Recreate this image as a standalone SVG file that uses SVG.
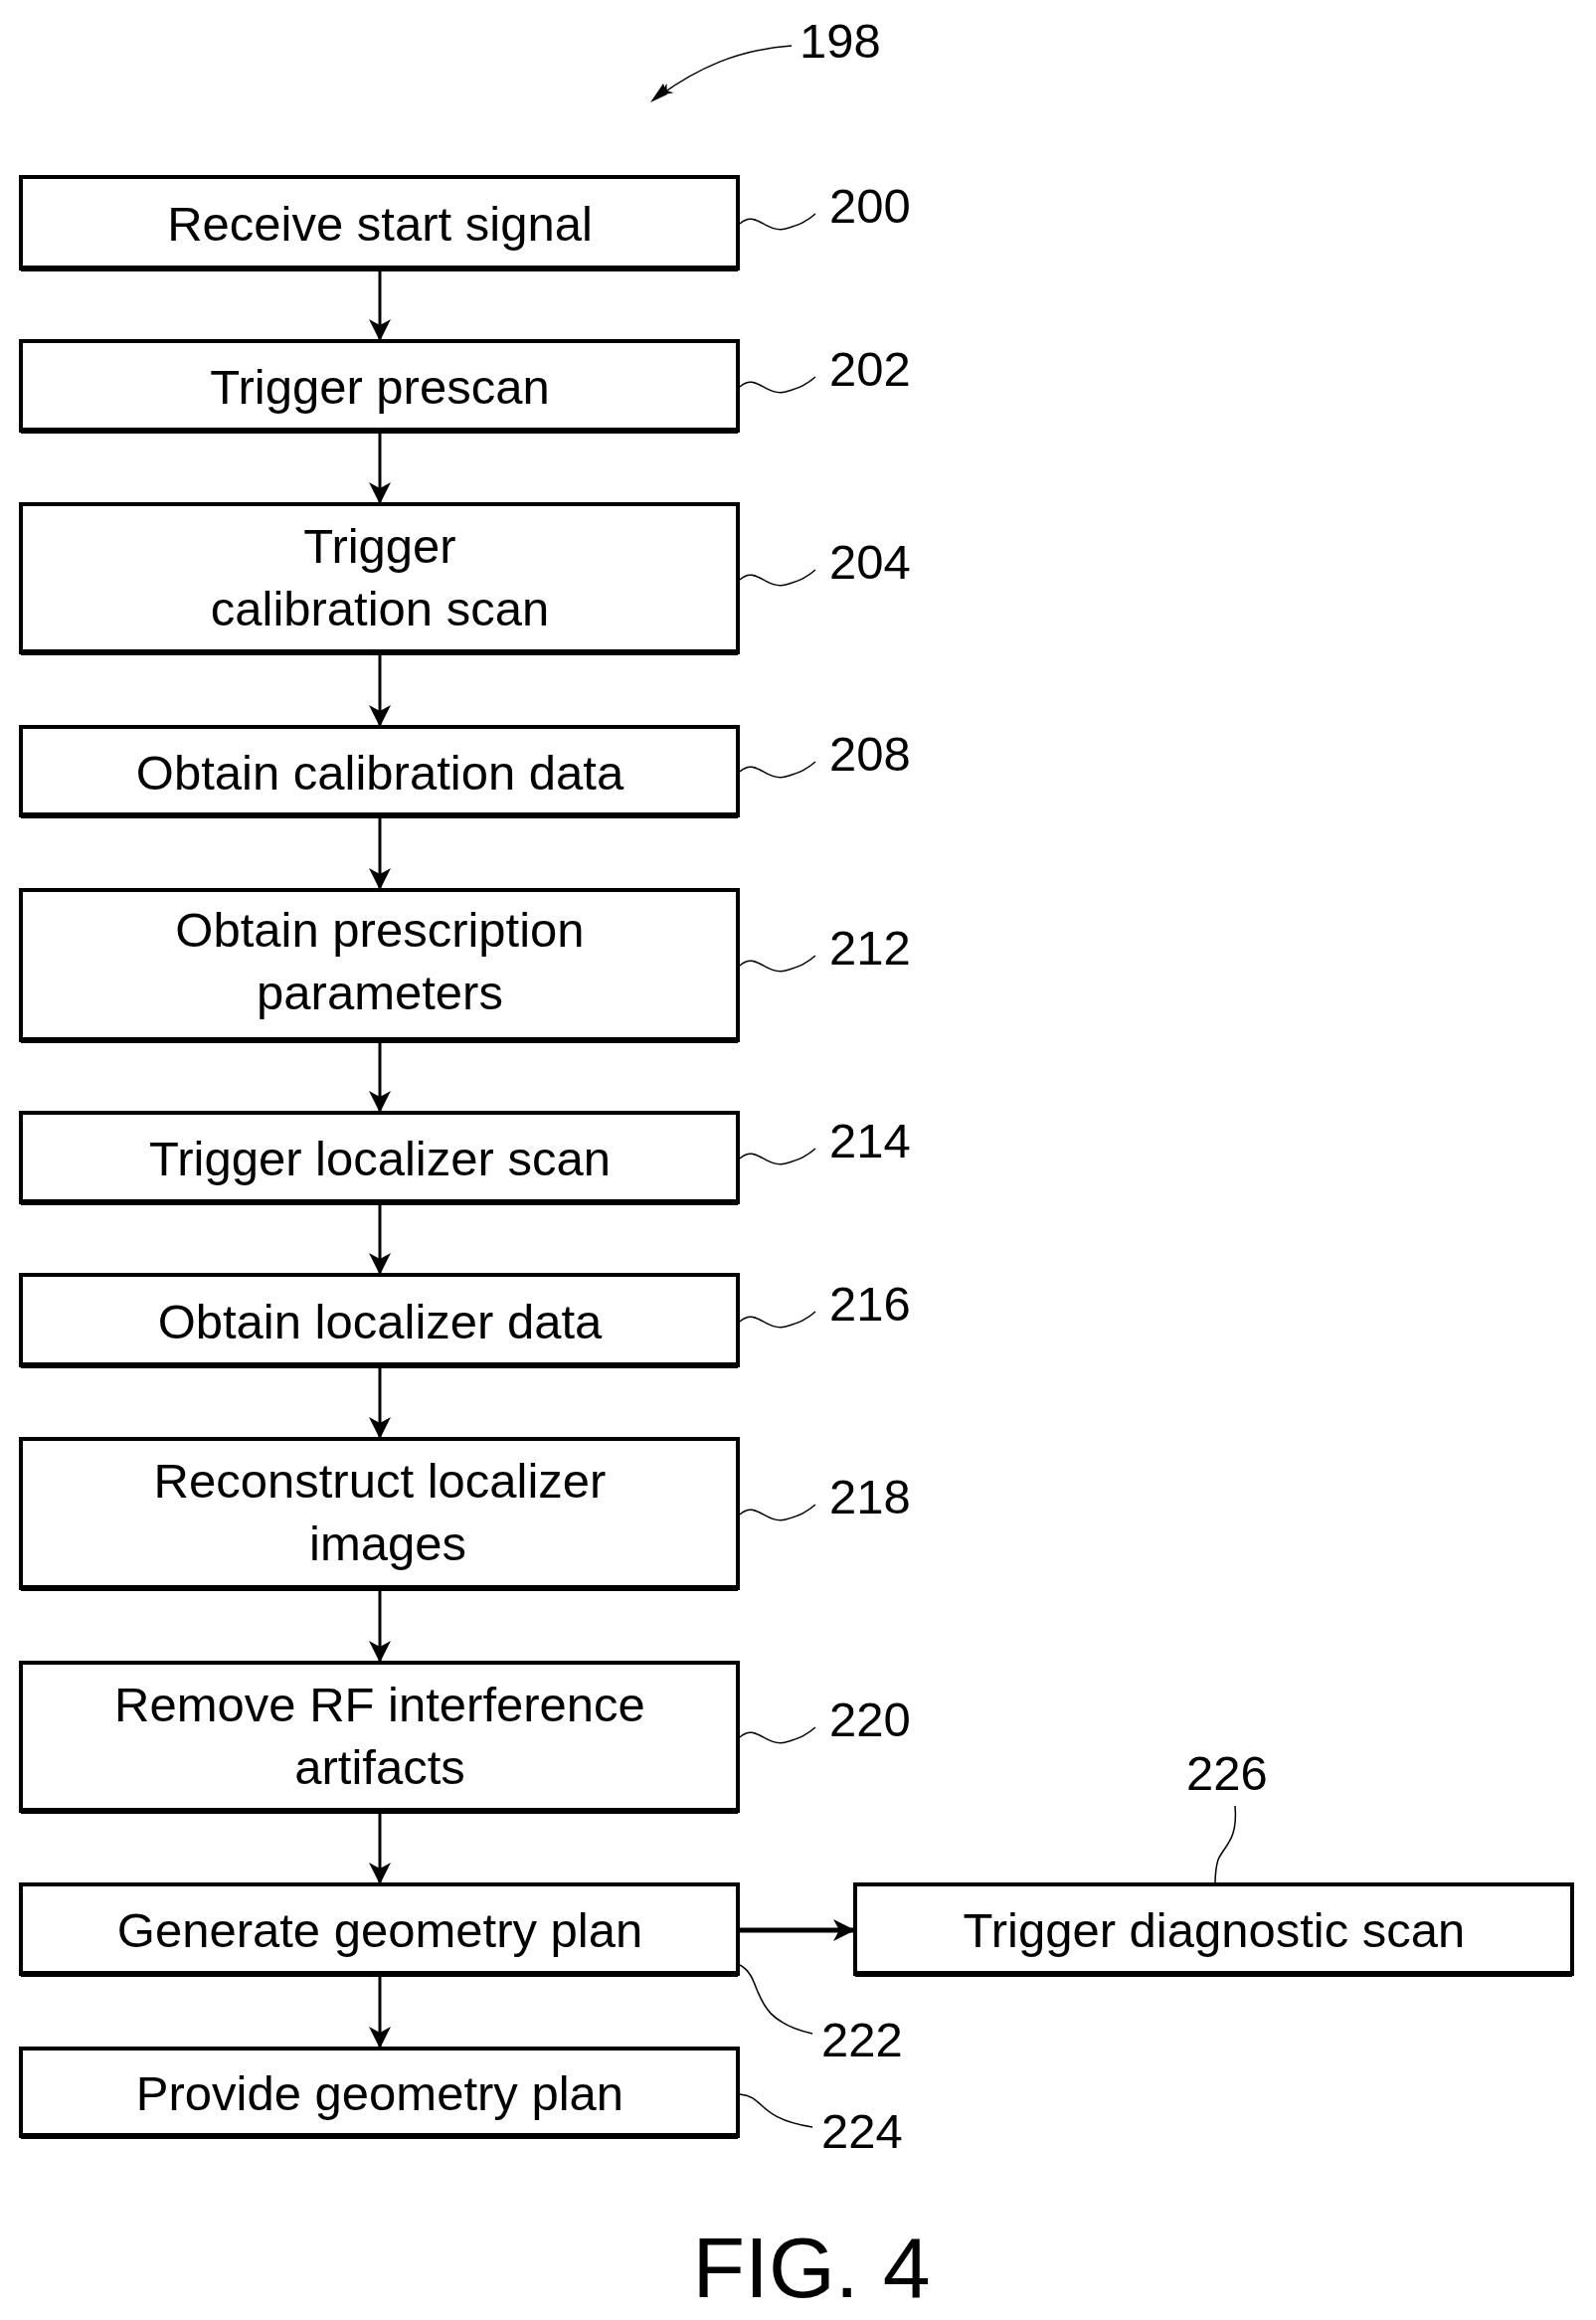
<svg xmlns="http://www.w3.org/2000/svg" width="1605" height="2333" viewBox="0 0 1605 2333">
<defs>
<style>
.box{fill:#fff;stroke:#000;stroke-width:4}
.sh{stroke:#000;stroke-width:6}
.t{font-family:"Liberation Sans",Arial,sans-serif;font-size:49px;text-anchor:middle;fill:#000}
.n{font-family:"Liberation Sans",Arial,sans-serif;font-size:49px;fill:#000}
.c{fill:none;stroke:#000;stroke-width:3}
.l{fill:none;stroke:#000;stroke-width:1.5}
</style>
<marker id="a" markerWidth="12" markerHeight="12" refX="11" refY="6" orient="auto" markerUnits="userSpaceOnUse"><path d="M0,0 L12,6 L0,12 L4,6 Z" fill="#000"/></marker>
<marker id="a2" markerWidth="22" markerHeight="22" refX="20" refY="11" orient="auto" markerUnits="userSpaceOnUse"><path d="M0,0 L22,11 L0,22 L6,11 Z" fill="#000"/></marker>
</defs>
<rect width="1605" height="2333" fill="#fff"/>
<g id="connectors">
<line class="c" x1="382" y1="272" x2="382" y2="341" marker-end="url(#a2)"/>
<line class="c" x1="382" y1="435" x2="382" y2="505" marker-end="url(#a2)"/>
<line class="c" x1="382" y1="658" x2="382" y2="729" marker-end="url(#a2)"/>
<line class="c" x1="382" y1="822" x2="382" y2="893" marker-end="url(#a2)"/>
<line class="c" x1="382" y1="1048" x2="382" y2="1117" marker-end="url(#a2)"/>
<line class="c" x1="382" y1="1211" x2="382" y2="1280" marker-end="url(#a2)"/>
<line class="c" x1="382" y1="1375" x2="382" y2="1445" marker-end="url(#a2)"/>
<line class="c" x1="382" y1="1599" x2="382" y2="1670" marker-end="url(#a2)"/>
<line class="c" x1="382" y1="1823" x2="382" y2="1893" marker-end="url(#a2)"/>
<line class="c" x1="382" y1="1987" x2="382" y2="2058" marker-end="url(#a2)"/>
<line x1="742" y1="1941" x2="858" y2="1941" stroke="#000" stroke-width="5" marker-end="url(#a2)"/>
</g>
<g id="n200"><rect class="box" x="21" y="178" width="721" height="92"/><line class="sh" x1="21" y1="270" x2="742" y2="270"/><text class="t" x="382" y="242">Receive start signal</text></g>
<g id="n202"><rect class="box" x="21" y="343" width="721" height="90"/><line class="sh" x1="21" y1="433" x2="742" y2="433"/><text class="t" x="382" y="406">Trigger prescan</text></g>
<g id="n204"><rect class="box" x="21" y="507" width="721" height="149"/><line class="sh" x1="21" y1="656" x2="742" y2="656"/><text class="t" x="382" y="566">Trigger</text><text class="t" x="382" y="629">calibration scan</text></g>
<g id="n208"><rect class="box" x="21" y="731" width="721" height="89"/><line class="sh" x1="21" y1="820" x2="742" y2="820"/><text class="t" x="382" y="794">Obtain calibration data</text></g>
<g id="n212"><rect class="box" x="21" y="895" width="721" height="151"/><line class="sh" x1="21" y1="1046" x2="742" y2="1046"/><text class="t" x="382" y="952">Obtain prescription</text><text class="t" x="382" y="1015">parameters</text></g>
<g id="n214"><rect class="box" x="21" y="1119" width="721" height="90"/><line class="sh" x1="21" y1="1209" x2="742" y2="1209"/><text class="t" x="382" y="1182">Trigger localizer scan</text></g>
<g id="n216"><rect class="box" x="21" y="1282" width="721" height="91"/><line class="sh" x1="21" y1="1373" x2="742" y2="1373"/><text class="t" x="382" y="1346">Obtain localizer data</text></g>
<g id="n218"><rect class="box" x="21" y="1447" width="721" height="150"/><line class="sh" x1="21" y1="1597" x2="742" y2="1597"/><text class="t" x="382" y="1506">Reconstruct localizer</text><text class="t" x="390" y="1569">images</text></g>
<g id="n220"><rect class="box" x="21" y="1672" width="721" height="149"/><line class="sh" x1="21" y1="1821" x2="742" y2="1821"/><text class="t" x="382" y="1731">Remove RF interference</text><text class="t" x="382" y="1794">artifacts</text></g>
<g id="n222"><rect class="box" x="21" y="1895" width="721" height="90"/><line class="sh" x1="21" y1="1985" x2="742" y2="1985"/><text class="t" x="382" y="1958">Generate geometry plan</text></g>
<g id="n224"><rect class="box" x="21" y="2060" width="721" height="88"/><line class="sh" x1="21" y1="2148" x2="742" y2="2148"/><text class="t" x="382" y="2122">Provide geometry plan</text></g>
<g id="n226"><rect class="box" x="860" y="1895" width="721" height="90"/><line class="sh" x1="860" y1="1985" x2="1581" y2="1985"/><text class="t" x="1221" y="1958">Trigger diagnostic scan</text></g>
<g id="labels">
<text class="n" x="804" y="58">198</text>
<path class="l" d="M796,46 C740,50 700,70 665,95" marker-end="url(#a)"/>
<path d="M654,103 L667,84 L671,95 Z" fill="#000"/>
<text class="n" x="834" y="224">200</text><path class="l" d="M744,225 C760,210 770,235 790,230 C805,226 812,222 820,215"/>
<text class="n" x="834" y="388">202</text><path class="l" d="M744,389 C760,374 770,399 790,394 C805,390 812,386 820,379"/>
<text class="n" x="834" y="582">204</text><path class="l" d="M744,583 C760,568 770,593 790,588 C805,584 812,580 820,573"/>
<text class="n" x="834" y="775">208</text><path class="l" d="M744,776 C760,761 770,786 790,781 C805,777 812,773 820,766"/>
<text class="n" x="834" y="970">212</text><path class="l" d="M744,971 C760,956 770,981 790,976 C805,972 812,968 820,961"/>
<text class="n" x="834" y="1164">214</text><path class="l" d="M744,1165 C760,1150 770,1175 790,1170 C805,1166 812,1162 820,1155"/>
<text class="n" x="834" y="1328">216</text><path class="l" d="M744,1329 C760,1314 770,1339 790,1334 C805,1330 812,1326 820,1319"/>
<text class="n" x="834" y="1522">218</text><path class="l" d="M744,1523 C760,1508 770,1533 790,1528 C805,1524 812,1520 820,1513"/>
<text class="n" x="834" y="1746">220</text><path class="l" d="M744,1747 C760,1732 770,1757 790,1752 C805,1748 812,1744 820,1737"/>
<text class="n" x="1193" y="1800">226</text><path class="l" d="M1242,1816 C1245,1850 1232,1855 1225,1870 C1222,1880 1222,1890 1222,1895"/>
<text class="n" x="826" y="2068">222</text><path class="l" d="M744,1976 C770,1990 750,2030 817,2045"/>
<text class="n" x="826" y="2160">224</text><path class="l" d="M744,2106 C770,2108 760,2130 817,2139"/>
<text class="n" x="816" y="2310" style="font-size:86px;text-anchor:middle">FIG. 4</text>
</g>
</svg>
